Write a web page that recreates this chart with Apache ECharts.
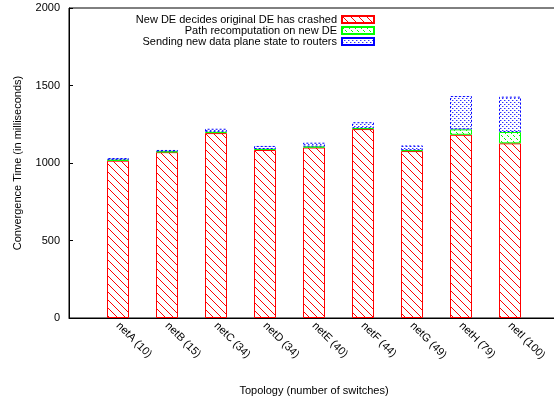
<!DOCTYPE html>
<html>
<head>
<meta charset="utf-8">
<script src="https://cdn.jsdelivr.net/npm/echarts@6/dist/echarts.min.js"></script>
<style>html,body{margin:0;padding:0;background:#fff;}#c{width:554px;height:400px;}</style>
</head>
<body>
<div id="c"></div>
<script>
// Categories (empty padding slots at both ends of the x range)
var categories = ['', 'netA (10)', 'netB (15)', 'netC (34)', 'netD (34)', 'netE (40)', 'netF (44)', 'netG (49)', 'netH (79)', 'netI (100)', ''];
var crashDetect = [null, 1015, 1070, 1193, 1084, 1100, 1219, 1077, 1182, 1127, null];
var pathRecomp  = [null, 5, 4, 8, 6, 6, 6, 6, 35, 73, null];
var sendState   = [null, 12, 10, 20, 20, 25, 38, 30, 215, 228, null];
var yTicks = [0, 500, 1000, 1500, 2000];
var seriesNames = ['New DE decides original DE has crashed', 'Path recomputation on new DE', 'Sending new data plane state to routers'];

function makePattern(kind) {
  var c = document.createElement('canvas');
  var ctx;
  if (kind === 'red') {
    c.width = 8; c.height = 8; ctx = c.getContext('2d');
    ctx.strokeStyle = '#ff0000'; ctx.lineWidth = 1;
    ctx.beginPath();
    ctx.moveTo(-1, -1); ctx.lineTo(9, 9);
    ctx.moveTo(-1, 7); ctx.lineTo(1, 9);
    ctx.moveTo(7, -1); ctx.lineTo(9, 1);
    ctx.stroke();
  } else if (kind === 'green') {
    c.width = 6; c.height = 6; ctx = c.getContext('2d');
    ctx.fillStyle = '#00ff00';
    ctx.fillRect(0, 0, 1, 1); ctx.fillRect(1, 1, 1, 1);
    ctx.fillRect(3, 3, 1, 1); ctx.fillRect(4, 4, 1, 1);
  } else {
    c.width = 4; c.height = 4; ctx = c.getContext('2d');
    ctx.fillStyle = '#3030ff';
    ctx.fillRect(0, 0, 1, 1); ctx.fillRect(2, 2, 1, 1);
    ctx.fillStyle = 'rgba(80,80,255,0.5)';
    ctx.fillRect(1, 0, 1, 1); ctx.fillRect(3, 2, 1, 1);
  }
  return { image: c, repeat: 'repeat' };
}

var chart = echarts.init(document.getElementById('c'), null, { renderer: 'canvas' });
var font = 'Liberation Sans';
function legendAt(name, top) {
  return {
    data: [{ name: name, icon: 'rect' }], right: 179, top: top, orient: 'vertical', align: 'right',
    itemWidth: 32, itemHeight: 7, padding: 0, itemGap: 0,
    textStyle: { fontFamily: font, fontSize: 11, color: '#000', padding: [0, 0, 0, 0] },
    selectedMode: false
  };
}
chart.setOption({
  animation: false,
  backgroundColor: '#fff',
  legend: [legendAt(seriesNames[0], 14), legendAt(seriesNames[1], 25), legendAt(seriesNames[2], 36)],
  grid: { left: 69, top: 8, width: 490, height: 310, show: true, borderColor: '#000', borderWidth: 1,
    backgroundColor: 'transparent', containLabel: false, outerBoundsMode: 'none' },
  xAxis: {
    type: 'category', data: categories, boundaryGap: false,
    name: 'Topology (number of switches)', nameLocation: 'middle', nameGap: 67,
    nameTextStyle: { fontFamily: font, fontSize: 11, color: '#000' },
    axisLine: { lineStyle: { color: '#000', width: 1 } },
    axisTick: { show: false },
    axisLabel: { rotate: -45, margin: 6, fontFamily: font, fontSize: 11, color: '#000', interval: 0,
      formatter: function (v) { return v; } },
    splitLine: { show: false }
  },
  yAxis: {
    type: 'value', min: yTicks[0], max: yTicks[yTicks.length - 1], interval: 500,
    name: 'Convergence Time (in milliseconds)', nameLocation: 'middle', nameGap: 46,
    nameTextStyle: { fontFamily: font, fontSize: 11, color: '#000' },
    axisLine: { show: true, lineStyle: { color: '#000', width: 1 } },
    axisTick: { show: true, inside: true, length: 4, lineStyle: { color: '#000' } },
    axisLabel: { margin: 9, fontFamily: font, fontSize: 11, color: '#000',
      formatter: function (v) { return String(v); } },
    splitLine: { show: false }
  },
  series: [
    { name: seriesNames[0], type: 'bar', stack: 's', data: crashDetect, barWidth: 22,
      itemStyle: { color: makePattern('red'), borderColor: '#ff0000', borderWidth: 1 } },
    { name: seriesNames[1], type: 'bar', stack: 's', data: pathRecomp, barWidth: 22,
      itemStyle: { color: makePattern('green'), borderColor: '#00ff00', borderWidth: 1 } },
    { name: seriesNames[2], type: 'bar', stack: 's', data: sendState, barWidth: 22,
      itemStyle: { color: makePattern('blue'), borderColor: '#0000ff', borderWidth: 1, borderType: [2, 2] } }
  ]
});
</script>
</body>
</html>
